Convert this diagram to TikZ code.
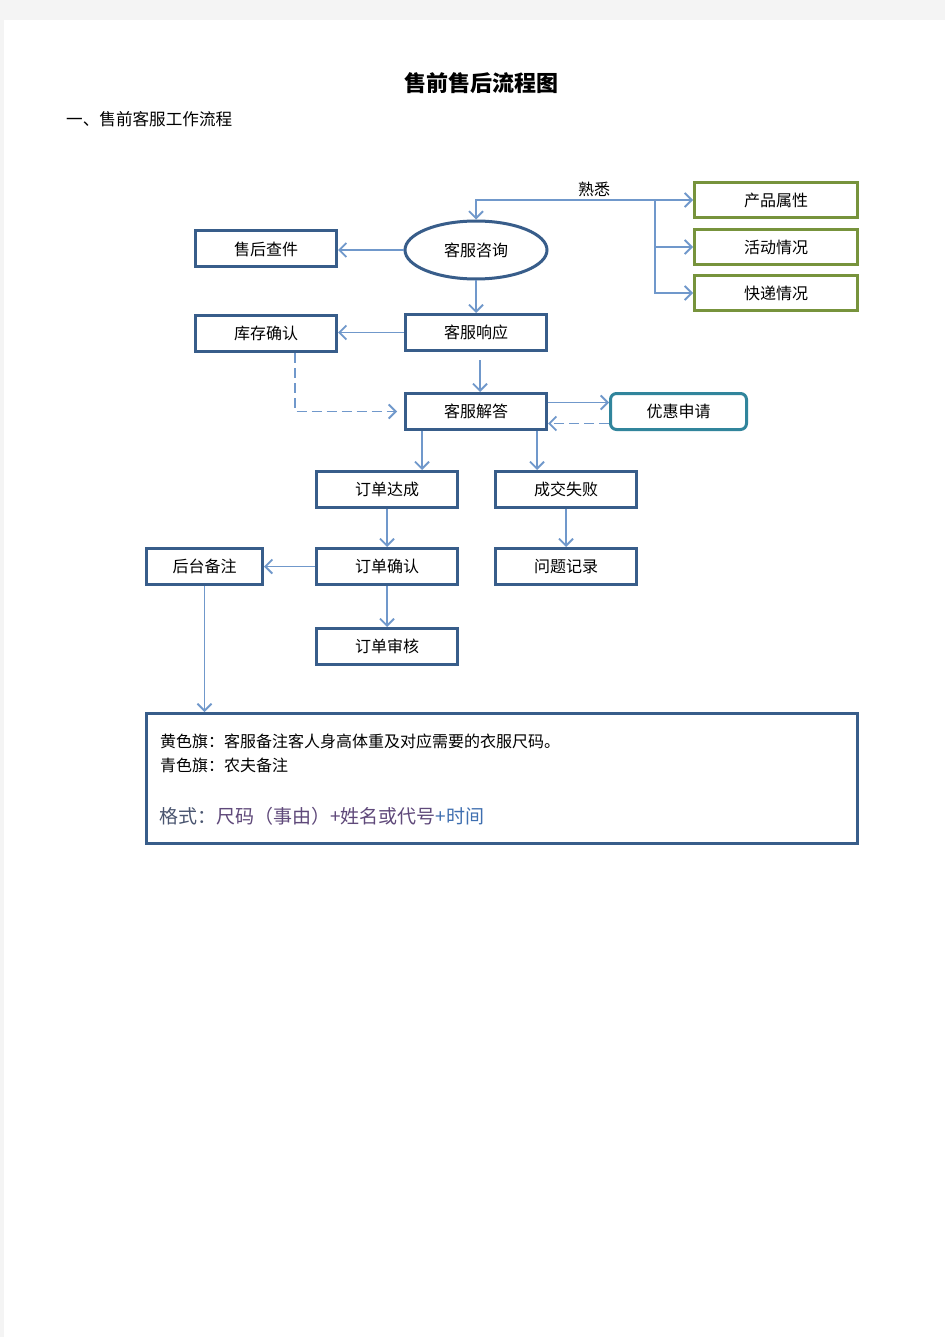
\documentclass[tikz,border=0pt]{standalone}
\usepackage{fontspec}
\setmainfont{Noto Sans CJK SC}
\usetikzlibrary{arrows.meta,shapes.geometric}
\definecolor{boxblue}{HTML}{385D8A}
\definecolor{boxgreen}{HTML}{77933C}
\definecolor{boxteal}{HTML}{31859C}
\definecolor{linkblue}{HTML}{7098CB}
\definecolor{pagegray}{HTML}{F4F4F4}
\definecolor{fmtgray}{HTML}{4A5570}
\definecolor{fmtpurple}{HTML}{5F497A}
\definecolor{fmtblue}{HTML}{3F6FB0}

\begin{document}
\begin{tikzpicture}[x=1pt,y=-1pt]
\tikzstyle{every node}=[inner sep=0pt, font=\fontsize{16}{19}\selectfont]
\tikzstyle{box}=[draw=boxblue, line width=3pt, minimum width=141pt, minimum height=36pt]
\tikzstyle{greenbox}=[draw=boxgreen, line width=3pt, minimum width=163pt, minimum height=35pt]
\tikzstyle{link}=[draw=linkblue, line width=1.8pt, -{Straight Barb[length=7pt,width=14pt]}]
\tikzstyle{dashlink}=[link, dash pattern=on 10pt off 5pt]
\useasboundingbox (0,0) rectangle (945,1337);
\fill[pagegray] (0,0) rectangle (945,1337);
\fill[white] (4,20) rectangle (945,1337);
% titles
\node (title) at (481,83) {\fontsize{22}{26}\selectfont\bfseries 售前售后流程图};
\node (sub) [anchor=west] at (66,119) {\fontsize{16.6}{19}\selectfont 一、售前客服工作流程};
% top row
\draw (776,200) node (attr) [greenbox] {产品属性};
\draw (776,247) node (event) [greenbox] {活动情况};
\draw (776,293) node (ship) [greenbox] {快递情况};
\draw (476,250) node (consult) [ellipse, draw=boxblue, line width=3pt, minimum width=142pt, minimum height=58pt] {客服咨询};
\draw (266,249) node (check) [box] {售后查件};
\draw (266,333.5) node (stock) [box] {库存确认};
\draw (476,332.5) node (respond) [box] {客服响应};
\draw (476,411.5) node (answer) [box] {客服解答};
\draw (678.5,411.5) node (promo) [draw=boxteal, line width=3pt, rounded corners=6pt, minimum width=136pt, minimum height=36pt] {优惠申请};
% orders
\draw (387,489.5) node (deal) [box] {订单达成};
\draw (566,489.5) node (fail) [box] {成交失败};
\draw (387,566.5) node (confirm) [box] {订单确认};
\draw (566,566.5) node (record) [box] {问题记录};
\draw (204.5,566.5) node (memo) [box, minimum width=116pt] {后台备注};
\draw (387,646.5) node (audit) [box] {订单审核};
\draw (502,778.5) node (note) [box, minimum width=711pt, minimum height=130pt] {};
\node (flag1) [anchor=west] at (160,741) {黄色旗：客服备注客人身高体重及对应需要的衣服尺码。};
\node (flag2) [anchor=west] at (160,765) {青色旗：农夫备注};
\node (fmt) [anchor=west] at (159,816) {\fontsize{19}{22}\selectfont{\color{fmtgray}格式：}{\color{fmtpurple}尺码（事由）+姓名或代号}{\color{fmtblue}+时间}};
% links
\coordinate (hub) at (655,200);
\draw[link] (hub) -- (attr);
\draw[link] (hub) -| node[pos=0.17, above=2pt] {熟悉} (consult);
\draw[link] (hub) |- (event);
\draw[link] (hub) |- (ship);
\draw[link] (consult.west) -- (consult.west -| check.east);
\draw[link] (consult) -- (respond);
\draw[link] (respond) -- (respond -| stock.east);
\draw[link, shorten <=8pt] ([xshift=4pt]respond.south) -- ([xshift=4pt]answer.north);
\draw[dashlink] ([xshift=29pt]stock.south) |- ([xshift=-7pt]answer.west);
\draw[link] ([yshift=9pt]answer.east) -- ([yshift=9pt]promo.west);
\draw[dashlink] ([yshift=-12pt]promo.west) -- ([yshift=-12pt]answer.east);
\draw[link] ([xshift=-54pt]answer.south) -- ([xshift=-54pt]answer.south |- deal.north);
\draw[link] ([xshift=61pt]answer.south) -- ([xshift=61pt]answer.south |- fail.north);
\draw[link] (deal) -- (confirm);
\draw[link] (fail) -- (record);
\draw[link] (confirm) -- (memo);
\draw[link] (confirm) -- (audit);
\draw[link] (memo) -- (memo |- note.north);
\end{tikzpicture}
\end{document}
